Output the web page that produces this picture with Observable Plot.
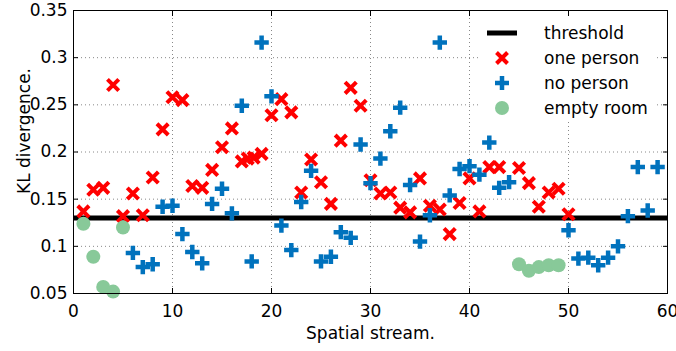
<!DOCTYPE html>
<html><head><meta charset="utf-8">
<script src="https://cdn.jsdelivr.net/npm/d3@7"></script>
<script src="https://cdn.jsdelivr.net/npm/@observablehq/plot@0.6"></script>
<style>
body{margin:0;background:#fff;}
#wrap{position:relative;width:676px;height:351px;font-family:"DejaVu Sans",sans-serif;}
#legend{position:absolute;left:478px;top:18px;width:178px;height:102px;background:#fff;}
</style>
</head><body>
<div id="wrap"></div>
<script>
// ---- data ----
const xTicks = [0, 10, 20, 30, 40, 50, 60];
const yTicks = [0.05, 0.1, 0.15, 0.2, 0.25, 0.3, 0.35];
const threshold = 0.13;

const onePersonX = [1,2,3,4,5,6,7,8,9,10,11,12,13,14,15,16,17,17.6,18.2,19,20,21,22,23,24,25,26,27,28,29,30,31,32,33,34,35,36,37,38,39,40,41,42,43,45,46,47,48,49,50];
const onePersonY = [0.137,0.160,0.162,0.271,0.132,0.156,0.133,0.173,0.224,0.258,0.255,0.164,0.162,0.181,0.205,0.225,0.190,0.193,0.194,0.198,0.239,0.256,0.242,0.157,0.192,0.168,0.145,0.212,0.268,0.249,0.170,0.156,0.157,0.141,0.136,0.172,0.143,0.139,0.113,0.146,0.172,0.137,0.184,0.184,0.183,0.167,0.142,0.157,0.161,0.134];

const noPersonX = [6,7,8,9,10,11,12,13,14,15,16,17,18,19,20,21,22,23,24,25,26,27,28,29,30,31,32,33,34,35,36,37,38,39,40,41,42,43,44,50,51,52,53,54,55,56,57,58,59];
const noPersonY = [0.093,0.078,0.081,0.142,0.143,0.113,0.094,0.082,0.145,0.161,0.135,0.249,0.084,0.316,0.259,0.122,0.096,0.147,0.180,0.084,0.089,0.115,0.109,0.208,0.167,0.193,0.222,0.247,0.165,0.105,0.133,0.316,0.154,0.182,0.185,0.176,0.210,0.162,0.168,0.117,0.087,0.088,0.080,0.088,0.100,0.132,0.184,0.138,0.184];

const emptyRoomX = [1,2,3,4,5,45,46,47,48,49];
const emptyRoomY = [0.124,0.089,0.057,0.052,0.120,0.081,0.074,0.078,0.080,0.080];

const seriesNames = ["threshold", "one person", "no person", "empty room"];
const colors = {one: "#ff0000", no: "#0072bd", empty: "#88c999"};

// ---- tables ----
const onePerson = onePersonX.map((x, i) => ({x, y: onePersonY[i]}));
const noPerson = noPersonX.map((x, i) => ({x, y: noPersonY[i]}));
const emptyRoom = emptyRoomX.map((x, i) => ({x, y: emptyRoomY[i]}));

const grid = {stroke: "#888", strokeOpacity: 1, strokeWidth: 1, strokeDasharray: "1,3"};
const blank = () => "";

const chart = Plot.plot({
  width: 676, height: 351,
  marginLeft: 73, marginRight: 9, marginTop: 10, marginBottom: 58,
  style: {fontFamily: "DejaVu Sans, sans-serif", fontSize: "17px", color: "#000", background: "#fff", overflow: "visible"},
  x: {type: "linear", domain: [0, 60], label: null},
  y: {type: "linear", domain: [0.05, 0.35], label: null},
  marks: [
    Plot.gridX(xTicks, grid),
    Plot.gridY(yTicks, grid),
    Plot.ruleY([threshold], {stroke: "#000", strokeWidth: 5}),
    Plot.dot(onePerson, {x: "x", y: "y", symbol: "times", r: 5.2, stroke: colors.one, strokeWidth: 4}),
    Plot.dot(noPerson, {x: "x", y: "y", symbol: "plus", r: 4.7, stroke: colors.no, strokeWidth: 4.5}),
    Plot.dot(emptyRoom, {x: "x", y: "y", r: 7, fill: colors.empty}),
    Plot.frame({stroke: "#000", strokeWidth: 1}),
    Plot.axisX(xTicks, {anchor: "bottom", tickSize: -5, tickPadding: 16, tickFormat: d => String(d)}),
    Plot.axisX(xTicks, {anchor: "top", tickSize: -5, tickFormat: blank}),
    Plot.axisY(yTicks, {anchor: "left", tickSize: -5, tickPadding: 11, tickFormat: d => String(+d.toFixed(2))}),
    Plot.axisY(yTicks, {anchor: "right", tickSize: -5, tickFormat: blank}),
    Plot.text(["Spatial stream."], {frameAnchor: "bottom", lineAnchor: "bottom", textAnchor: "middle", dy: 45, fontSize: 17}),
    Plot.text(["KL divergence."], {frameAnchor: "left", textAnchor: "middle", dx: -49, dy: -21, rotate: -90, fontSize: 17})
  ]
});
document.getElementById("wrap").appendChild(chart);

// ---- legend (overlay, white background) ----
const lg = d3.select("#wrap").append("div").attr("id", "legend")
  .append("svg").attr("width", 178).attr("height", 102);
const rowY = i => 15 + i * 25;
seriesNames.forEach((name, i) => {
  const g = lg.append("g").attr("transform", `translate(24,${rowY(i)})`);
  if (i === 0) g.append("line").attr("x1", -15).attr("x2", 15).attr("stroke", "#000").attr("stroke-width", 5);
  if (i === 1) g.append("path").attr("d", "M-5.5,-5.5L5.5,5.5M5.5,-5.5L-5.5,5.5").attr("stroke", colors.one).attr("stroke-width", 4).attr("fill", "none");
  if (i === 2) g.append("path").attr("d", "M-7,0L7,0M0,-7L0,7").attr("stroke", colors.no).attr("stroke-width", 4.5).attr("fill", "none");
  if (i === 3) g.append("circle").attr("r", 7).attr("fill", colors.empty);
  lg.append("text").attr("x", 66).attr("y", rowY(i)).attr("dy", "0.35em")
    .attr("font-family", "DejaVu Sans, sans-serif").attr("font-size", 17).attr("fill", "#000").text(name);
});
</script>
</body></html>
